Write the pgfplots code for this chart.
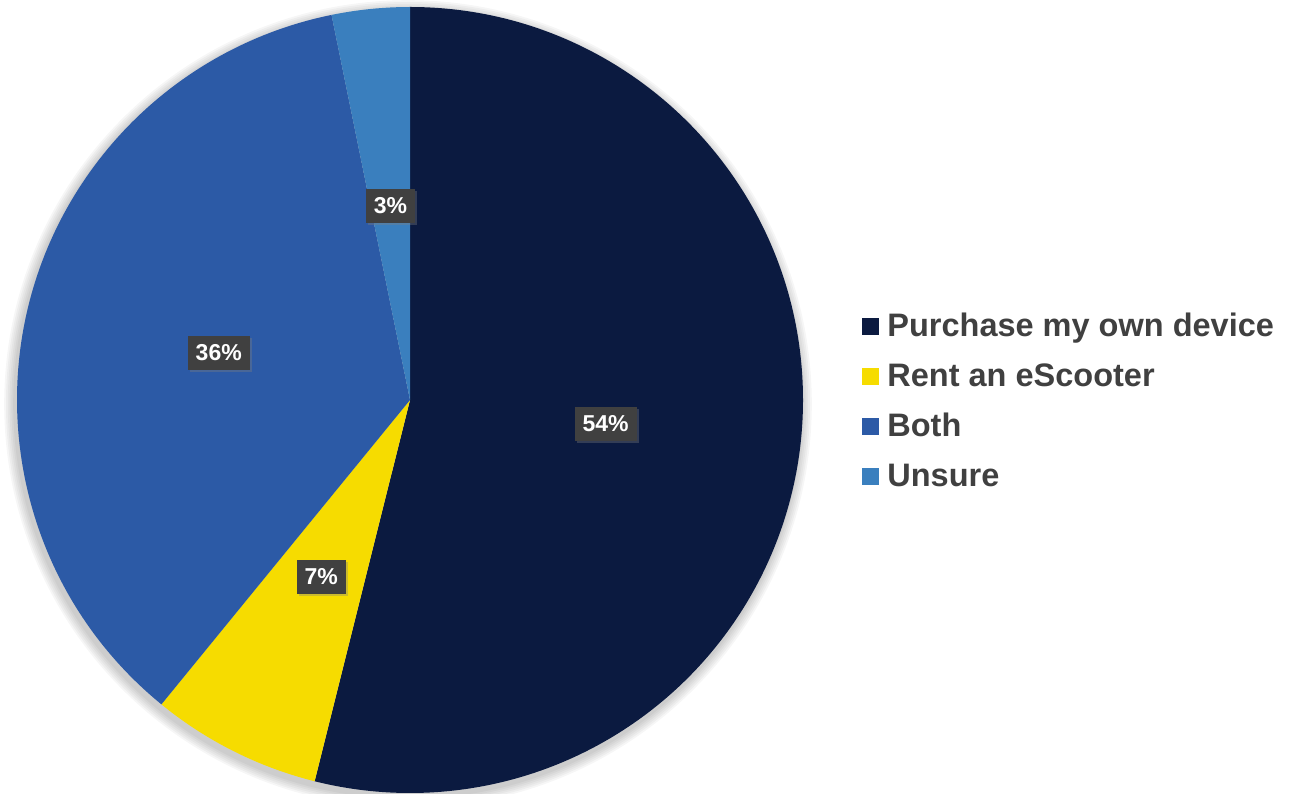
\documentclass[border=0pt]{standalone}
\usepackage{fontspec}
\setmainfont{Liberation Sans}
\usepackage{pgfplots}
\usepackage{pgfplotstable}
\pgfplotsset{compat=1.18}
\usetikzlibrary{shadows}

\definecolor{cPurchase}{HTML}{0B1A40}
\definecolor{cRent}{HTML}{F6DC00}
\definecolor{cBoth}{HTML}{2C5AA6}
\definecolor{cUnsure}{HTML}{3A7FBE}
\definecolor{txtgray}{HTML}{404040}
\definecolor{lblgray}{HTML}{404040}

\tikzset{lbl/.style={fill=lblgray, text=white, font=\fontsize{11.5}{13}\selectfont\bfseries,
    inner xsep=4pt, minimum height=17pt,
    drop shadow={opacity=0.35, shadow xshift=1.2pt, shadow yshift=-1.2pt}}}

% share of answers, percent
\pgfplotstableread{
choice value
Purchase 53.9
Rent 7.0
Both 35.9
Unsure 3.2
}\piedata

\pgfplotstablegetelem{0}{value}\of\piedata \let\vA\pgfplotsretval
\pgfplotstablegetelem{1}{value}\of\piedata \let\vB\pgfplotsretval
\pgfplotstablegetelem{2}{value}\of\piedata \let\vC\pgfplotsretval
\pgfplotstablegetelem{3}{value}\of\piedata \let\vD\pgfplotsretval
% slices start at 12 o'clock, clockwise
\pgfmathsetmacro\aA{90}
\pgfmathsetmacro\aB{\aA-3.6*\vA}
\pgfmathsetmacro\aC{\aB-3.6*\vB}
\pgfmathsetmacro\aD{\aC-3.6*\vC}
\pgfmathsetmacro\aE{\aD-3.6*\vD}
\pgfmathsetmacro\mA{(\aA+\aB)/2}
\pgfmathsetmacro\mB{(\aB+\aC)/2}
\pgfmathsetmacro\mC{(\aC+\aD)/2}
\pgfmathsetmacro\mD{(\aD+\aE)/2}
\def\R{196.5pt}

\begin{document}
\begin{tikzpicture}
\begin{axis}[
  x=0.5pt, y=0.5pt,
  xmin=0, xmax=1301, ymin=0, ymax=793,
  hide axis, clip=false,
  legend image code/.code={\fill[#1, draw=none] (0pt,-4.25pt) rectangle (8.5pt,4.25pt);},
  legend style={
    at={(axis cs:862,392)}, anchor=west,
    draw=none, fill=none, inner sep=0pt,
    font=\fontsize{16.25}{19}\selectfont\bfseries, text=txtgray,
    row sep=12pt, column sep=4pt,
    nodes={inner sep=0pt},
  },
  legend cell align=left,
]
\addlegendimage{fill=cPurchase}
\addlegendimage{fill=cRent}
\addlegendimage{fill=cBoth}
\addlegendimage{fill=cUnsure}
\legend{Purchase my own device, Rent an eScooter, Both, Unsure}

\coordinate (BL) at (axis cs:0,0);
\coordinate (TR) at (axis cs:1301,793);

% soft shadow round the pie
\pgfplotsinvokeforeach{1,...,6}{
  \fill[black, opacity=0.035] (axis cs:408,389) circle[radius=196.5pt+#1*0.9pt];
}
\fill[cPurchase] (axis cs:410,393) -- ++(\aA:\R) arc[start angle=\aA, end angle=\aB, radius=\R] -- cycle;
\fill[cRent] (axis cs:410,393) -- ++(\aB:\R) arc[start angle=\aB, end angle=\aC, radius=\R] -- cycle;
\fill[cBoth] (axis cs:410,393) -- ++(\aC:\R) arc[start angle=\aC, end angle=\aD, radius=\R] -- cycle;
\fill[cUnsure] (axis cs:410,393) -- ++(\aD:\R) arc[start angle=\aD, end angle=\aE, radius=\R] -- cycle;

\path (axis cs:410,393) ++(\mA:98.5pt) node[lbl] {54\%};
\path (axis cs:410,393) ++(\mB:99pt) node[lbl] {7\%};
\path (axis cs:410,393) ++(\mC:98.5pt) node[lbl] {36\%};
\path (axis cs:410,393) ++(\mD:97.5pt) node[lbl] {3\%};
\end{axis}
\pgfresetboundingbox
\useasboundingbox (BL) rectangle (TR);
\end{tikzpicture}
\end{document}
